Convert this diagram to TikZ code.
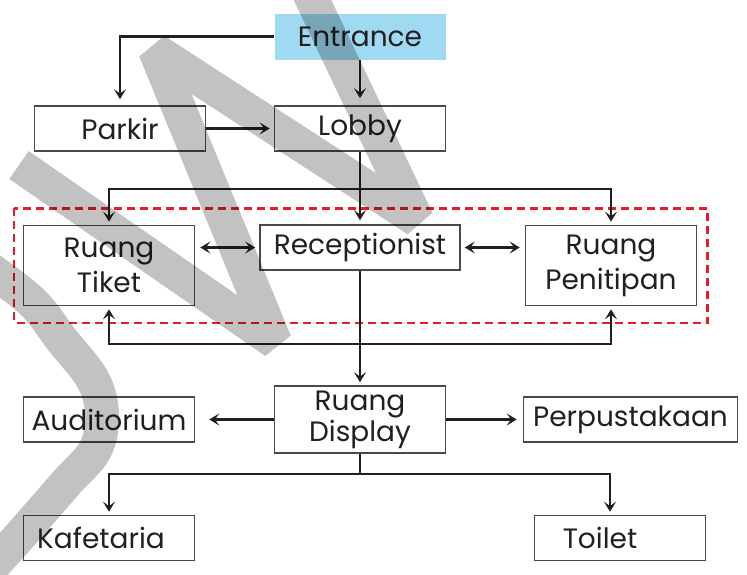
\documentclass[tikz,border=0pt]{standalone}
\usepackage{fontspec}
\setmainfont{Poppins}
\usepackage{tikz}
\usetikzlibrary{positioning,calc,arrows.meta}
\definecolor{skyfill}{RGB}{160,217,242}
\definecolor{inkline}{RGB}{35,31,32}
\definecolor{boxline}{RGB}{77,72,72}
\definecolor{dashred}{RGB}{232,28,36}
\newcommand{\roomfont}{\fontsize{14}{17.5}\selectfont}
\newcommand{\tightfont}{\fontsize{14}{12.5}\selectfont}
\newcommand{\boxw}{85.5pt}
\newcommand{\boxh}{22.5pt}
\newcommand{\ydista}{46pt}
\newcommand{\ydistb}{59.5pt}
\newcommand{\ydistc}{9pt}
\newcommand{\ydistd}{86pt}
\newcommand{\ydiste}{59.25pt}
\newcommand{\xdista}{120pt}
\newcommand{\xdistb}{125.5pt}
\newcommand{\xdistc}{135.25pt}
\newcommand{\xdistd}{130pt}

\tikzset{
  room/.style={rectangle,
    minimum width=\boxw,
    minimum height=\boxh,
    inner sep=1pt,
    align=center,
    draw=boxline,
    line width=0.8pt,
    fill=white,
    text=inkline,
    font=\roomfont},
  flow/.style={draw=inkline, line width=1.1pt, ->},
  link/.style={draw=inkline, line width=1.1pt},
  groupbox/.style={draw=dashred, line width=1.3pt, dash pattern=on 4pt off 2.5pt},
  wmband/.style={draw=black, opacity=0.24, line width=17pt, line join=bevel}
}

\begin{document}
\begin{tikzpicture}[>={Stealth[length=5pt,width=6pt,inset=2.2pt]}]

  \useasboundingbox (-180pt,18.25pt) rectangle (193.5pt,-268.75pt);

  % entrance
  \node [room, fill=skyfill, draw=none, minimum height=23pt] (entrance) {Entrance};

  % lobby and parkir
  \node [room,
  below=\ydista of entrance.center,
  anchor=center] (lobby) {Lobby};

  \node [room,
  left=\xdista of lobby.center,
  anchor=center] (parkir) {Parkir};

  % receptionist group
  \node [room,
  minimum width=100pt,
  below=\ydistb of lobby.center,
  anchor=center] (receptionist) {Receptionist};

  \node [room,
  minimum height=40pt,
  below left=\ydistc and \xdistb of receptionist.center,
  anchor=center] (tiket) {Ruang\\Tiket};

  \node [room,
  minimum height=40pt,
  below right=\ydistc and \xdistb of receptionist.center,
  anchor=center] (penitipan) {Ruang\\Penitipan};

  % display and the rooms round it
  \node [room,
  minimum height=33.5pt,
  font=\tightfont,
  below=\ydistd of receptionist.center,
  anchor=center] (display) {Ruang\\Display};

  \node [room,
  left=\xdistb of display.center,
  anchor=center] (auditorium) {Auditorium};

  \node [room,
  minimum width=107pt,
  right=\xdistc of display.center,
  anchor=center] (perpustakaan) {Perpustakaan};

  \node [room,
  below left=\ydiste and \xdistb of display.center,
  anchor=center] (kafetaria) {\hspace*{-8pt}Kafetaria};

  \node [room,
  below right=\ydiste and \xdistd of display.center,
  anchor=center] (toilet) {\hspace*{-20pt}Toilet};

  % bars
  \coordinate [below=18.5pt of lobby.south] (topbar);
  \coordinate [below=36.5pt of receptionist.south] (lowbar);
  \coordinate [below=10pt of display.south] (basebar);

  % dashed group round the front rooms
  \draw [groupbox] ([xshift=-4.25pt,yshift=8.25pt]tiket.north west)
    rectangle ([xshift=5pt,yshift=-8.25pt]penitipan.south east);

  % connectors
  \draw [flow, shorten >=3pt] (entrance.west) -| (parkir.north);
  \draw [flow, shorten >=3.5pt] (entrance) -- (lobby);
  \draw [flow, shorten >=2pt] (parkir) -- (lobby);
  \draw [flow, shorten >=2pt] (lobby) -- (receptionist);
  \draw [flow, shorten >=1.5pt] (topbar) -| (tiket.north);
  \draw [flow, shorten >=1.5pt] (topbar) -| (penitipan.north);

  \draw [flow, <->, shorten <=2.5pt, shorten >=2pt] (tiket.east |- receptionist.west) -- (receptionist.west);
  \draw [flow, <->, shorten <=2pt, shorten >=2.5pt] (receptionist.east) -- (receptionist.east -| penitipan.west);

  \draw [flow, shorten >=1.5pt] (receptionist) -- (display);
  \draw [flow, shorten >=1.5pt] (lowbar) -| (tiket.south);
  \draw [flow, shorten >=1.5pt] (lowbar) -| (penitipan.south);

  \draw [flow, shorten >=7pt] (display.west) -- (display.west -| auditorium.east);
  \draw [flow, shorten >=3pt] (display.east) -- (display.east -| perpustakaan.west);

  \draw [link] (display) -- (basebar);
  \draw [flow, shorten >=1.5pt] (basebar) -| (kafetaria.north);
  \draw [flow, shorten >=1.5pt] (basebar) -| ([xshift=-5pt]toilet.north);

  % watermark
  \begin{scope}[x=0.5pt, y=-0.5pt, shift={(-360,-36.5)}]
    \clip (0,0) rectangle (747,574);
    \draw [wmband] (19,165) -- (275,342) -- (155,50) -- (417,220) -- (303,-20);
    \draw [wmband] plot [smooth, tension=0.6] coordinates
      {(-30,255) (30,300) (62,340) (93,380) (102,415) (95,450) (67,482) (40,513) (10,547) (-25,585)};
  \end{scope}

\end{tikzpicture}
\end{document}
